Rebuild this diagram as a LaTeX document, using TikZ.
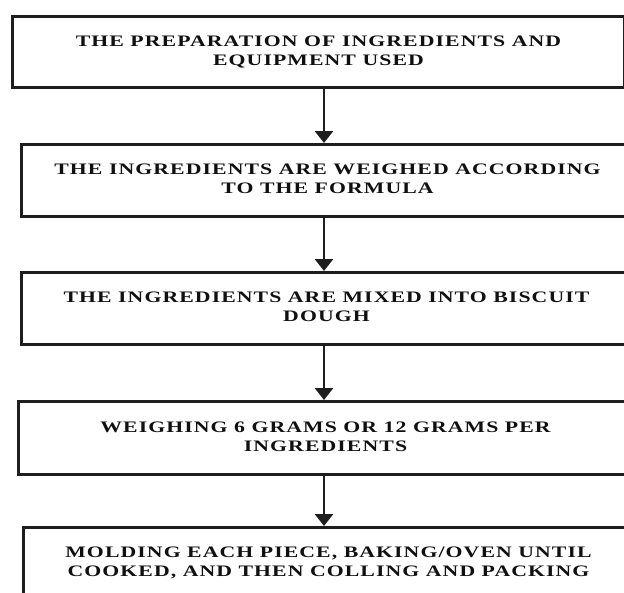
\documentclass[tikz,border=0pt]{standalone}
\usepackage{fontspec}
\usepackage{graphicx}
\newfontfamily\flowfont{Liberation Serif}[LetterSpace=5]
\usetikzlibrary{arrows.meta}
\definecolor{boxline}{HTML}{1E1E1E}
\definecolor{inkcol}{HTML}{101010}
\newcommand{\steptext}[2]{{\fontsize{16}{19}\selectfont\flowfont\bfseries\color{inkcol}%
  \scalebox{1.36}[1]{\begin{tabular}{@{}c@{}}#1\\#2\end{tabular}}}}
\tikzset{
  stepbox/.style={draw=boxline, line width=3pt, rectangle, inner sep=0pt,
    anchor=north west, minimum width=612pt, minimum height=72pt},
  flow/.style={draw=boxline, line width=2.8pt, -{Triangle[width=18pt,length=12pt]}}
}
\begin{document}
\begin{tikzpicture}
\useasboundingbox (0,0) rectangle (624pt,-592pt);
\clip (0,0) rectangle (624pt,-592pt);
\fill[white] (0,0) rectangle (624pt,-592pt);
\coordinate (ax) at (324pt,0);
\node[stepbox, minimum width=612pt, minimum height=71pt] (b1) at (11pt,-15pt)
  {\steptext{THE PREPARATION OF INGREDIENTS AND}{EQUIPMENT USED}};
\node[stepbox, minimum width=612pt, minimum height=72pt] (b2) at (20pt,-143pt)
  {\steptext{THE INGREDIENTS ARE WEIGHED ACCORDING}{TO THE FORMULA}};
\node[stepbox, minimum width=610pt, minimum height=72pt] (b3) at (20pt,-271pt)
  {\steptext{THE INGREDIENTS ARE MIXED INTO BISCUIT}{DOUGH}};
\node[stepbox, minimum width=614pt, minimum height=73pt] (b4) at (17pt,-400pt)
  {\steptext{WEIGHING 6 GRAMS OR 12 GRAMS PER}{INGREDIENTS}};
\node[stepbox, minimum width=610pt, minimum height=72pt] (b5) at (22pt,-526pt)
  {\steptext{MOLDING EACH PIECE, BAKING/OVEN UNTIL}{COOKED, AND THEN COLLING AND PACKING}};
\draw[flow] (b1.south -| ax) -- (b2.north -| ax);
\draw[flow] (b2.south -| ax) -- (b3.north -| ax);
\draw[flow] (b3.south -| ax) -- (b4.north -| ax);
\draw[flow] (b4.south -| ax) -- (b5.north -| ax);
\end{tikzpicture}
\end{document}
